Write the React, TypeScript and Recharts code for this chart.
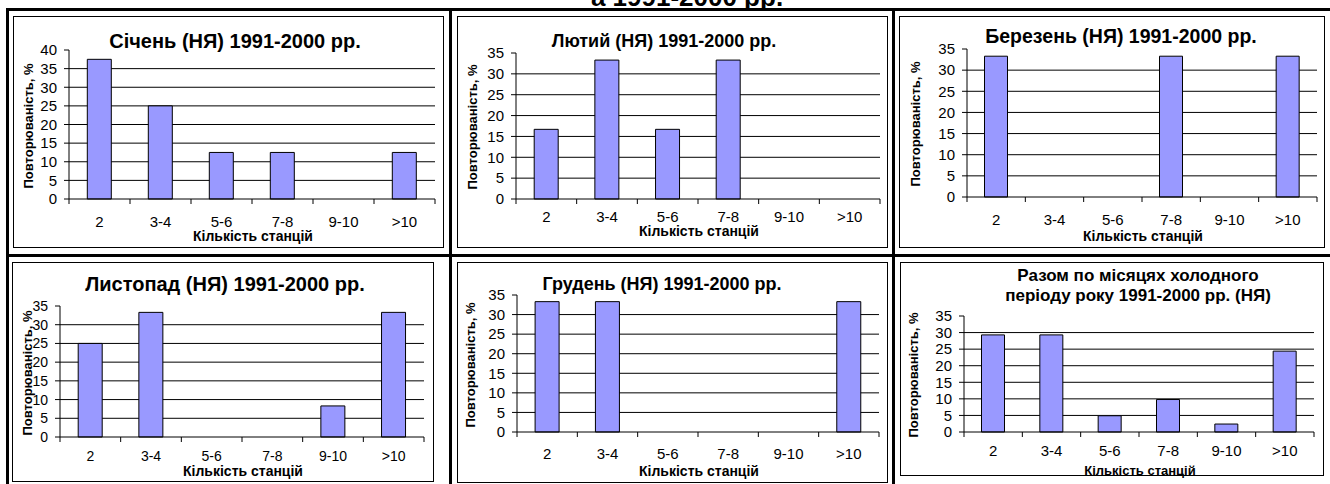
import { BarChart, Bar, XAxis, YAxis, CartesianGrid } from 'recharts'

const categories = ['2', '3-4', '5-6', '7-8', '9-10', '>10']

// повторюваність, % по кількості станцій
const january = [37.5, 25, 12.5, 12.5, 0, 12.5]
const february = [16.7, 33.3, 16.7, 33.3, 0, 0]
const march = [33.3, 0, 0, 33.3, 0, 33.3]
const november = [25, 33.3, 0, 0, 8.3, 33.3]
const december = [33.3, 33.3, 0, 0, 0, 33.3]
const coldSeason = [29.3, 29.3, 4.9, 9.8, 2.4, 24.4]

const FONT = 'Arial, "Liberation Sans", sans-serif'
const BAR_FILL = '#9999ff'

type PanelSpec = {
  title: string[]
  values: number[]
  yMax: number
  box: [number, number, number, number] // left, top, width, height
  plot: [number, number, number, number] // left, top, right, bottom
  titleX: number
  titleY: number
  titleSize: number
  tickFont: number
  xLabelY: number
  xTitleY: number
  xTitleSize: number
  yTitleX: number
  yTitleSize: number
}

const panels: PanelSpec[] = [
  {
    title: ['Січень (НЯ) 1991-2000 рр.'], values: january, yMax: 40,
    box: [13, 16, 431, 232], plot: [69, 50, 435, 199],
    titleX: 234, titleY: 40, titleSize: 20, tickFont: 15,
    xLabelY: 221, xTitleY: 235, xTitleSize: 14, yTitleX: 28, yTitleSize: 13,
  },
  {
    title: ['Лютий (НЯ) 1991-2000 рр.'], values: february, yMax: 35,
    box: [457, 16, 431, 232], plot: [516, 53, 880, 199],
    titleX: 663, titleY: 40, titleSize: 18, tickFont: 15,
    xLabelY: 216, xTitleY: 230, xTitleSize: 14, yTitleX: 472, yTitleSize: 13,
  },
  {
    title: ['Березень (НЯ) 1991-2000 рр.'], values: march, yMax: 35,
    box: [899, 16, 426, 232], plot: [967, 49, 1317, 197],
    titleX: 1120, titleY: 35, titleSize: 19.5, tickFont: 15,
    xLabelY: 219, xTitleY: 235, xTitleSize: 14, yTitleX: 915, yTitleSize: 13,
  },
  {
    title: ['Листопад (НЯ) 1991-2000 рр.'], values: november, yMax: 35,
    box: [12, 262, 422, 220], plot: [60, 306, 424, 437],
    titleX: 224, titleY: 283, titleSize: 20, tickFont: 14,
    xLabelY: 456, xTitleY: 470, xTitleSize: 14, yTitleX: 27, yTitleSize: 13,
  },
  {
    title: ['Грудень (НЯ) 1991-2000 рр.'], values: december, yMax: 35,
    box: [457, 262, 431, 221], plot: [517, 295, 879, 432],
    titleX: 661, titleY: 283, titleSize: 18, tickFont: 15,
    xLabelY: 453, xTitleY: 470, xTitleSize: 14, yTitleX: 470, yTitleSize: 13,
  },
  {
    title: ['Разом по місяцях холодного', 'періоду року 1991-2000 рр. (НЯ)'], values: coldSeason, yMax: 35,
    box: [900, 262, 424, 214], plot: [964, 316, 1314, 432],
    titleX: 1137, titleY: 285, titleSize: 17, tickFont: 15,
    xLabelY: 450, xTitleY: 470, xTitleSize: 13, yTitleX: 913, yTitleSize: 13,
  },
]

// category ticks: label in the middle, tick marks on the category borders
function StationTick(props: any) {
  const { x, y, payload, index, band, labelDy, fontSize } = props
  const left = x - band / 2
  return (
    <g>
      <line x1={left} y1={y} x2={left} y2={y + 5} stroke="#000" />
      {index === categories.length - 1 && (
        <line x1={x + band / 2} y1={y} x2={x + band / 2} y2={y + 5} stroke="#000" />
      )}
      <text x={x} y={y + labelDy} textAnchor="middle" dominantBaseline="central" fontSize={fontSize} fill="#000">
        {payload.value}
      </text>
    </g>
  )
}

function Panel({ spec }: { spec: PanelSpec }) {
  const [bl, bt, bw, bh] = spec.box
  const [pl, pt, pr, pb] = spec.plot
  const innerL = bl + 1
  const innerT = bt + 1
  const innerW = bw - 2
  const innerH = bh - 2
  const data = categories.map((cat, i) => ({ cat, value: spec.values[i] }))
  const ticks: number[] = []
  for (let v = 0; v <= spec.yMax; v += 5) ticks.push(v)
  const gridValues = ticks.filter(v => v > 0 && v < spec.yMax)
  const band = (pr - pl) / categories.length

  return (
    <div
      style={{
        position: 'absolute', left: bl, top: bt, width: bw, height: bh,
        border: '1px solid #000', boxSizing: 'border-box', background: '#fff',
      }}
    >
      <BarChart
        width={innerW}
        height={innerH}
        data={data}
        margin={{ left: 0, top: pt - innerT, right: innerL + innerW - pr, bottom: 0 }}
        barCategoryGap="30%"
      >
        <CartesianGrid horizontal vertical={false} stroke="#000" horizontalValues={gridValues} />
        <XAxis
          dataKey="cat"
          height={innerT + innerH - pb}
          axisLine={{ stroke: '#000' }}
          tickLine={false}
          tickSize={0}
          tickMargin={0}
          interval={0}
          tick={<StationTick band={band} labelDy={spec.xLabelY - pb} fontSize={spec.tickFont} />}
        />
        <XAxis xAxisId="frame" dataKey="cat" orientation="top" height={0} tick={false} tickLine={false} axisLine={{ stroke: '#808080' }} />
        <YAxis
          width={pl - innerL}
          domain={[0, spec.yMax]}
          ticks={ticks}
          interval={0}
          axisLine={{ stroke: '#000' }}
          tickLine={{ stroke: '#000' }}
          tickSize={5}
          tickMargin={7}
          tick={{ fill: '#000', fontSize: spec.tickFont }}
        />
        <YAxis yAxisId="frame" orientation="right" width={0} domain={[0, spec.yMax]} tick={false} tickLine={false} axisLine={{ stroke: '#808080' }} />
        <Bar dataKey="value" fill={BAR_FILL} stroke="#000" strokeWidth={1} isAnimationActive={false} />
      </BarChart>
      <div
        style={{
          position: 'absolute', left: spec.titleX - bl - 200, width: 400, top: spec.titleY - bt - spec.title.length * 10,
          height: spec.title.length * 20, textAlign: 'center', fontWeight: 'bold', fontSize: spec.titleSize,
          lineHeight: '20px', whiteSpace: 'nowrap',
        }}
      >
        {spec.title.map(t => <div key={t}>{t}</div>)}
      </div>
      <div
        style={{
          position: 'absolute', left: (pl + pr) / 2 - bl - 150, width: 300, top: spec.xTitleY - bt - 8,
          height: 16, lineHeight: '16px', textAlign: 'center', fontWeight: 'bold', fontSize: spec.xTitleSize,
        }}
      >
        Кількість станцій
      </div>
      <div
        style={{
          position: 'absolute', left: spec.yTitleX - bl - 100, top: (pt + pb) / 2 - bt - 8, width: 200, height: 16,
          lineHeight: '16px', textAlign: 'center', fontWeight: 'bold', fontSize: spec.yTitleSize,
          transform: 'rotate(-90deg)', whiteSpace: 'nowrap',
        }}
      >
        Повторюваність, %
      </div>
    </div>
  )
}

const rule = (left: number, top: number, width: number, height: number) => (
  <div style={{ position: 'absolute', left, top, width, height, background: '#000' }} />
)

export default function App() {
  return (
    <div
      style={{
        position: 'absolute', left: 0, top: 0, width: 1330, height: 484, overflow: 'hidden',
        background: '#fff', fontFamily: FONT, color: '#000',
      }}
    >
      <div
        style={{
          position: 'absolute', left: 487, width: 400, top: -16, fontSize: 26, lineHeight: '26px',
          fontWeight: 'bold', textAlign: 'center', whiteSpace: 'nowrap',
        }}
      >
        а 1991-2000 рр.
      </div>
      {rule(6, 8, 1324, 3)}
      {rule(6, 254, 1324, 3)}
      {rule(6, 8, 3, 476)}
      {rule(449, 8, 3, 476)}
      {rule(892, 8, 3, 476)}
      {panels.map(p => <Panel key={p.title[0]} spec={p} />)}
    </div>
  )
}
